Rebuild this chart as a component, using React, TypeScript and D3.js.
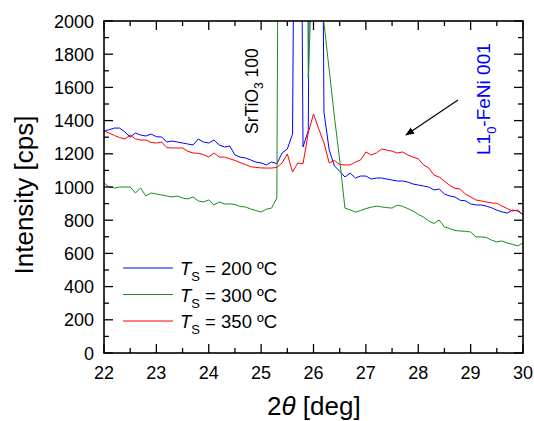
import React from "react";
import * as d3 from "d3";

// 2θ positions (deg)
const angle = [
  22.0, 22.1, 22.2, 22.3, 22.4, 22.5, 22.6, 22.7, 22.8, 22.9,
  23.0, 23.1, 23.2, 23.3, 23.4, 23.5, 23.6, 23.7, 23.8, 23.9,
  24.0, 24.1, 24.2, 24.3, 24.4, 24.5, 24.6, 24.7, 24.8, 24.9,
  25.0, 25.1, 25.2, 25.3, 25.4, 25.5, 25.6, 25.7, 25.8, 25.9,
  26.0, 26.1, 26.2, 26.3, 26.4, 26.5, 26.6, 26.7, 26.8, 26.9,
  27.0, 27.1, 27.2, 27.3, 27.4, 27.5, 27.6, 27.7, 27.8, 27.9,
  28.0, 28.1, 28.2, 28.3, 28.4, 28.5, 28.6, 28.7, 28.8, 28.9,
  29.0, 29.1, 29.2, 29.3, 29.4, 29.5, 29.6, 29.7, 29.8, 29.9,
  30.0,
];

// Ts = 200 ºC
const ts200 = [
  1337, 1345, 1355, 1355, 1331, 1301, 1325, 1313, 1307, 1319,
  1303, 1301, 1271, 1277, 1271, 1265, 1259, 1253, 1289, 1271,
  1265, 1283, 1253, 1241, 1247, 1193, 1180, 1175, 1163, 1150,
  1145, 1133, 1151, 1140, 1205, 1229, 1320, 6000, 1241, 1340,
  6000, 6000, 1450, 1223, 1127, 1095, 1060, 1084, 1054, 1066,
  1066, 1048, 1054, 1054, 1048, 1042, 1036, 1036, 1030, 1018,
  1012, 1006, 1000, 982, 988, 958, 946, 940, 920, 917,
  898, 892, 892, 885, 875, 861, 850, 843, 861, 855,
  834,
];

// Ts = 300 ºC
const ts300 = [
  1024, 1000, 994, 1000, 1000, 1000, 964, 994, 946, 964,
  958, 952, 946, 940, 946, 934, 928, 940, 916, 910,
  922, 892, 910, 898, 898, 895, 882, 880, 868, 858,
  849, 866, 873, 934, 8000, 8000, 8000, 8000, 8000, 1656,
  2530, 2262, 1988, 1705, 1422, 1163, 873, 862, 849, 858,
  870, 878, 885, 880, 876, 873, 891, 884, 870, 855,
  835, 819, 795, 780, 801, 759, 750, 738, 735, 733,
  729, 700, 699, 696, 680, 669, 675, 662, 655, 645,
  663,
];

// Ts = 350 ºC
const ts350 = [
  1337, 1325, 1310, 1298, 1289, 1313, 1290, 1283, 1283, 1268,
  1265, 1271, 1237, 1235, 1235, 1235, 1215, 1205, 1203, 1195,
  1181, 1205, 1181, 1180, 1170, 1160, 1147, 1135, 1122, 1118,
  1115, 1114, 1114, 1118, 1145, 1199, 1090, 1145, 1140, 1325,
  1440, 1350, 1265, 1145, 1160, 1135, 1133, 1133, 1150, 1163,
  1211, 1193, 1205, 1229, 1222, 1216, 1205, 1211, 1193, 1180,
  1170, 1133, 1115, 1072, 1060, 1035, 1010, 992, 988, 958,
  940, 922, 916, 910, 904, 902, 885, 870, 855, 861,
  834,
];

const seriesNames = ["200", "300", "350"];
const seriesColors = ["#0000ff", "#1a8c1a", "#ff0000"];
const seriesValues = [ts200, ts300, ts350];

const xMajor = [22, 23, 24, 25, 26, 27, 28, 29, 30];
const yMajor = [0, 200, 400, 600, 800, 1000, 1200, 1400, 1600, 1800, 2000];

const W = 534;
const H = 421;
const margin = { left: 104, top: 21, right: 11, bottom: 68 };
const font = "Arial, 'Liberation Sans', sans-serif";

export default function App() {
  const x = d3
    .scaleLinear()
    .domain([22, 30])
    .range([margin.left, W - margin.right]);
  const y = d3
    .scaleLinear()
    .domain([0, 2000])
    .range([H - margin.bottom, margin.top]);

  const line = d3
    .line<number>()
    .x((d, i) => x(angle[i]))
    .y((d) => y(d));

  const [x0, x1] = x.range();
  const [y0, y1] = y.range();

  const xMinor = d3.range(22.5, 30, 1);
  const yMinor = d3.range(100, 2000, 200);

  return (
    <svg
      width={W}
      height={H}
      style={{ position: "absolute", left: 0, top: 0, background: "#fff" }}
      fontFamily={font}
    >
      <defs>
        <clipPath id="plot">
          <rect x={x0} y={y1} width={x1 - x0} height={y0 - y1} />
        </clipPath>
        <marker
          id="arrow"
          viewBox="0 0 10 10"
          refX="9"
          refY="5"
          markerWidth="9"
          markerHeight="9"
          markerUnits="userSpaceOnUse"
          orient="auto"
        >
          <path d="M0,1 L10,5 L0,9 Z" fill="#000" />
        </marker>
      </defs>

      {/* series */}
      <g clipPath="url(#plot)">
        {seriesValues.map((vals, i) => (
          <path
            key={seriesNames[i]}
            d={line(vals) || ""}
            fill="none"
            stroke={seriesColors[i]}
            strokeWidth={1}
          />
        ))}
      </g>

      {/* ticks, inward on all four sides */}
      <g stroke="#000" strokeWidth={1.3}>
        {xMajor.map((t) => (
          <g key={"xM" + t}>
            <line x1={x(t)} x2={x(t)} y1={y0} y2={y0 - 9} />
            <line x1={x(t)} x2={x(t)} y1={y1} y2={y1 + 9} />
          </g>
        ))}
        {xMinor.map((t) => (
          <g key={"xm" + t}>
            <line x1={x(t)} x2={x(t)} y1={y0} y2={y0 - 5} />
            <line x1={x(t)} x2={x(t)} y1={y1} y2={y1 + 5} />
          </g>
        ))}
        {yMajor.map((t) => (
          <g key={"yM" + t}>
            <line x1={x0} x2={x0 + 9} y1={y(t)} y2={y(t)} />
            <line x1={x1} x2={x1 - 9} y1={y(t)} y2={y(t)} />
          </g>
        ))}
        {yMinor.map((t) => (
          <g key={"ym" + t}>
            <line x1={x0} x2={x0 + 5} y1={y(t)} y2={y(t)} />
            <line x1={x1} x2={x1 - 5} y1={y(t)} y2={y(t)} />
          </g>
        ))}
      </g>
      <rect
        x={x0}
        y={y1}
        width={x1 - x0}
        height={y0 - y1}
        fill="none"
        stroke="#000"
        strokeWidth={1.6}
      />

      {/* tick labels */}
      <g fontSize={18} fill="#000">
        {xMajor.map((t) => (
          <text key={"xl" + t} x={x(t)} y={y0 + 26} textAnchor="middle">
            {t}
          </text>
        ))}
        {yMajor.map((t) => (
          <text key={"yl" + t} x={x0 - 10} y={y(t) + 6.5} textAnchor="end">
            {t}
          </text>
        ))}
      </g>

      {/* axis titles */}
      <text
        transform={`translate(33,${(y0 + y1) / 2 + 8}) rotate(-90)`}
        textAnchor="middle"
        fontSize={26}
      >
        Intensity [cps]
      </text>
      <text x={267} y={415} fontSize={26}>
        2<tspan fontStyle="italic">θ</tspan>
        <tspan> [deg]</tspan>
      </text>

      {/* annotations */}
      <text transform="translate(258,134) rotate(-90)" fontSize={17.5}>
        SrTiO
        <tspan dy={5} fontSize={12}>
          3
        </tspan>
        <tspan dy={-5}> 100</tspan>
      </text>
      <text
        transform="translate(490,155) rotate(-90)"
        fontSize={19}
        fill="#0000ff"
      >
        L1
        <tspan dy={6} fontSize={13}>
          0
        </tspan>
        <tspan dy={-6}>-FeNi 001</tspan>
      </text>
      <line
        x1={458}
        y1={100}
        x2={406}
        y2={135}
        stroke="#000"
        strokeWidth={1.2}
        markerEnd="url(#arrow)"
      />

      {/* legend */}
      {seriesNames.map((name, i) => {
        const ly = 268 + i * 26.5;
        return (
          <g key={"lg" + name}>
            <line
              x1={123}
              x2={173}
              y1={ly}
              y2={ly}
              stroke={seriesColors[i]}
              strokeWidth={1.2}
            />
            <text x={180} y={ly + 7} fontSize={18.5}>
              <tspan fontStyle="italic">T</tspan>
              <tspan dy={6} fontSize={13}>
                S
              </tspan>
              <tspan dy={-6}>{` = ${name} ºC`}</tspan>
            </text>
          </g>
        );
      })}
    </svg>
  );
}
